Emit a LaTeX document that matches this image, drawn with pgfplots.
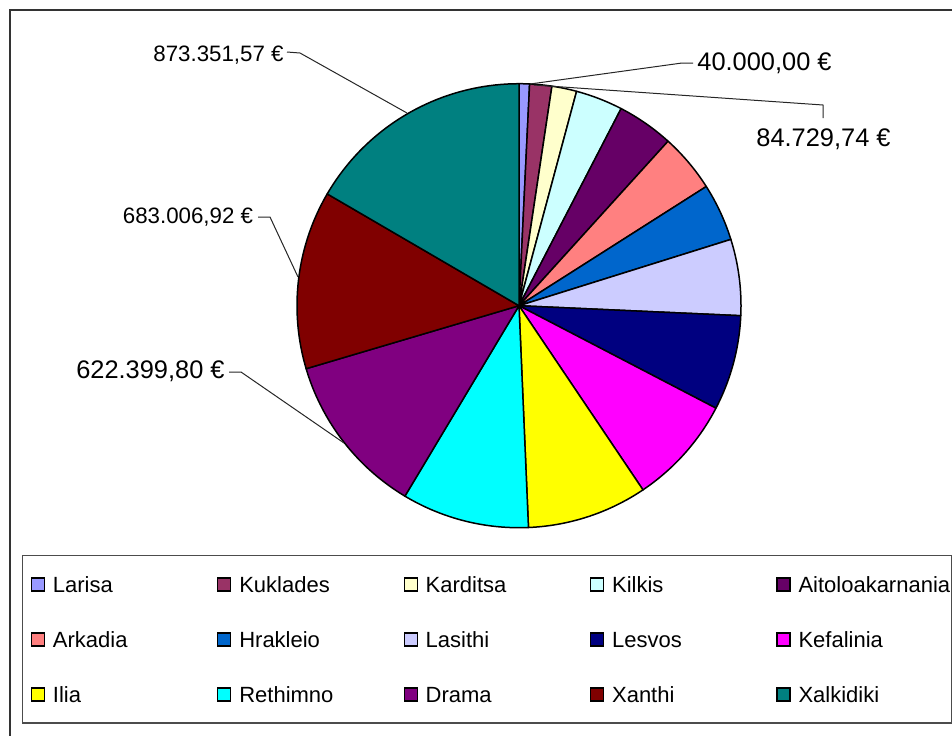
\documentclass[border=0pt]{standalone}
\usepackage{fontspec}
\setmainfont{Liberation Sans}
\usepackage{pgfplots}
\usepackage{pgfplotstable}
\pgfplotsset{compat=1.18}
\definecolor{pc0}{HTML}{9999FF}
\definecolor{pc1}{HTML}{993366}
\definecolor{pc2}{HTML}{FFFFCC}
\definecolor{pc3}{HTML}{CCFFFF}
\definecolor{pc4}{HTML}{660066}
\definecolor{pc5}{HTML}{FF8080}
\definecolor{pc6}{HTML}{0066CC}
\definecolor{pc7}{HTML}{CCCCFF}
\definecolor{pc8}{HTML}{000080}
\definecolor{pc9}{HTML}{FF00FF}
\definecolor{pc10}{HTML}{FFFF00}
\definecolor{pc11}{HTML}{00FFFF}
\definecolor{pc12}{HTML}{800080}
\definecolor{pc13}{HTML}{800000}
\definecolor{pc14}{HTML}{008080}
\pgfplotstableread{
region value
Larisa 40000.00
Kuklades 84729.74
Karditsa 95000
Kilkis 180500
Aitoloakarnania 216200
Arkadia 224300
Hrakleio 220600
Lasithi 291700
Lesvos 364000
Kefalinia 417400
Ilia 460600
Rethimno 487600
Drama 622399.80
Xanthi 683006.92
Xalkidiki 873351.57
}\piedata
\def\cx{519}\def\cy{305.7}\def\R{222}
\newcommand\smallf{\fontsize{11.15}{13}\selectfont}
\newcommand\bigf{\fontsize{12.7}{15}\selectfont}
\def\lw{82.1pt}
\def\lwl{72.5pt}
\begin{document}
\begin{tikzpicture}
\def\tot{0}
\pgfplotsforeachungrouped \i in {0,...,14}{%
  \pgfplotstablegetelem{\i}{value}\of\piedata
  \edef\tot{\fpeval{\tot+\pgfplotsretval}}}
\begin{axis}[
  x=0.5pt, y=0.5pt, xmin=0, xmax=952, ymin=0, ymax=735, y dir=reverse,
  hide axis, clip=false,
  legend columns=5,
  legend cell align=left,
  legend image code/.code={\draw[#1,draw=black,line width=0.6pt] (0pt,-3.25pt) rectangle (6.5pt,3.25pt);},
  legend style={at={(axis cs:22,555)}, anchor=north west, draw=black!70, line width=0.7pt,
    fill=white, inner xsep=4pt, inner ysep=10.4pt,
    /tikz/every odd column/.style={column sep=4pt},
    /tikz/every even column/.style={column sep=0pt},
    row sep=19.6pt,
    nodes={inner sep=0pt, text height=7.9pt, text depth=0pt},
    font=\fontsize{11}{13}\selectfont},
]
\coordinate (bbA) at (rel axis cs:0,0);
\coordinate (bbB) at (rel axis cs:1,1);
% frame
\draw[line width=1pt, black!80] (axis cs:10,780) -- (axis cs:10,10) -- (axis cs:980,10);
% pie slices
\def\cum{0}
\pgfplotsforeachungrouped \i in {0,...,14}{%
  \pgfplotstablegetelem{\i}{value}\of\piedata
  \edef\a{\fpeval{\cum/\tot*360}}%
  \edef\cum{\fpeval{\cum+\pgfplotsretval}}%
  \edef\b{\fpeval{\cum/\tot*360}}%
  \edef\doplot{\noexpand\addplot[draw=black, line width=0.75pt, line join=round, fill=pc\i, domain=\a:\b, samples=40, forget plot] ({\cx+\R*sin(x)},{\cy-\R*cos(x)}) -- (axis cs:\cx,\cy) -- cycle;}%
  \doplot
}
% legend entries
\addlegendimage{fill=pc0}\addlegendentry{\makebox[\lw][l]{Larisa}}
\addlegendimage{fill=pc1}\addlegendentry{\makebox[\lw][l]{Kuklades}}
\addlegendimage{fill=pc2}\addlegendentry{\makebox[\lw][l]{Karditsa}}
\addlegendimage{fill=pc3}\addlegendentry{\makebox[\lw][l]{Kilkis}}
\addlegendimage{fill=pc4}\addlegendentry{\makebox[\lwl][l]{Aitoloakarnania}}
\addlegendimage{fill=pc5}\addlegendentry{\makebox[\lw][l]{Arkadia}}
\addlegendimage{fill=pc6}\addlegendentry{\makebox[\lw][l]{Hrakleio}}
\addlegendimage{fill=pc7}\addlegendentry{\makebox[\lw][l]{Lasithi}}
\addlegendimage{fill=pc8}\addlegendentry{\makebox[\lw][l]{Lesvos}}
\addlegendimage{fill=pc9}\addlegendentry{\makebox[\lwl][l]{Kefalinia}}
\addlegendimage{fill=pc10}\addlegendentry{\makebox[\lw][l]{Ilia}}
\addlegendimage{fill=pc11}\addlegendentry{\makebox[\lw][l]{Rethimno}}
\addlegendimage{fill=pc12}\addlegendentry{\makebox[\lw][l]{Drama}}
\addlegendimage{fill=pc13}\addlegendentry{\makebox[\lw][l]{Xanthi}}
\addlegendimage{fill=pc14}\addlegendentry{\makebox[\lwl][l]{Xalkidiki}}
% leader lines
\draw[line width=0.5pt, black!85] (axis cs:287,52) -- (axis cs:300,53) -- (axis cs:407,113);
\draw[line width=0.5pt, black!85] (axis cs:693,63) -- (axis cs:682,63) -- (axis cs:530,84);
\draw[line width=0.5pt, black!85] (axis cs:534,85) -- (axis cs:823,105) -- (axis cs:823,118);
\draw[line width=0.5pt, black!85] (axis cs:258,217) -- (axis cs:270,217) -- (axis cs:298,277);
\draw[line width=0.5pt, black!85] (axis cs:229,372) -- (axis cs:241,372) -- (axis cs:344,443);
% labels
\node[anchor=base east, inner sep=0pt, font=\smallf] at (axis cs:284,61.5) {873.351,57 €};
\node[anchor=base west, inner sep=0pt, font=\bigf] at (axis cs:697,70) {40.000,00 €};
\node[anchor=base west, inner sep=0pt, font=\bigf] at (axis cs:756,146.7) {84.729,74 €};
\node[anchor=base east, inner sep=0pt, font=\smallf] at (axis cs:253.5,223.3) {683.006,92 €};
\node[anchor=base east, inner sep=0pt, font=\bigf] at (axis cs:225,378.3) {622.399,80 €};
\end{axis}
\pgfresetboundingbox
\path (bbA) rectangle (bbB);
\end{tikzpicture}
\end{document}
